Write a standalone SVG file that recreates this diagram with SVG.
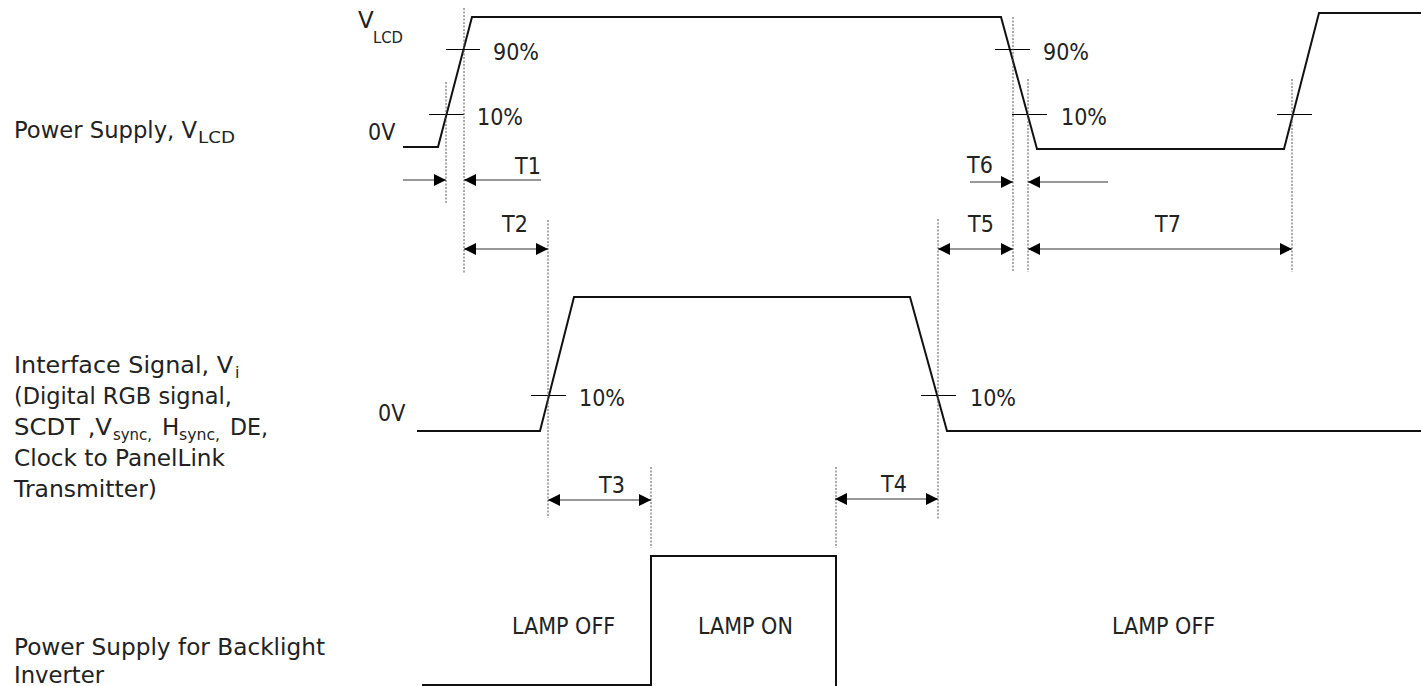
<svg xmlns="http://www.w3.org/2000/svg" width="1421" height="686" viewBox="0 0 1421 686">
<style>
text{font-family:"DejaVu Sans","Liberation Sans",sans-serif;font-stretch:condensed;font-size:23px;fill:#222}
.lab{font-stretch:normal}
.sub{font-size:16px;font-stretch:normal}
.sig{fill:none;stroke:#111;stroke-width:2}
.tick{stroke:#000;stroke-width:1}
.dash{stroke:#555;stroke-width:1;stroke-dasharray:2,1.5}
.dim{stroke:#333;stroke-width:1.2;fill:none}
</style>
<defs>
<marker id="ah" viewBox="0 0 12 12" refX="12" refY="6" markerWidth="12" markerHeight="12" markerUnits="userSpaceOnUse" orient="auto-start-reverse">
<path d="M0,0 L12,6 L0,12 Z" fill="#000"/>
</marker>
</defs>
<rect width="1421" height="686" fill="#fff"/>

<g id="labels">
<text class="lab" x="14" y="138" textLength="183" lengthAdjust="spacingAndGlyphs">Power Supply, V</text>
<text class="sub" x="198" y="143" textLength="37" lengthAdjust="spacingAndGlyphs">LCD</text>
<text class="lab" x="14" y="373" textLength="219" lengthAdjust="spacingAndGlyphs">Interface Signal, V</text>
<text class="sub" x="235" y="378">i</text>
<text class="lab" x="14" y="404" textLength="218" lengthAdjust="spacingAndGlyphs">(Digital RGB signal,</text>
<text class="lab" x="14" y="435" textLength="98" lengthAdjust="spacingAndGlyphs">SCDT ,V</text>
<text class="sub" x="113" y="440" textLength="39" lengthAdjust="spacingAndGlyphs">sync,</text>
<text class="lab" x="162" y="435">H</text>
<text class="sub" x="179" y="440" textLength="41" lengthAdjust="spacingAndGlyphs">sync,</text>
<text class="lab" x="230" y="435" textLength="38" lengthAdjust="spacingAndGlyphs">DE,</text>
<text class="lab" x="14" y="466" textLength="211" lengthAdjust="spacingAndGlyphs">Clock to PanelLink</text>
<text class="lab" x="14" y="497" textLength="143" lengthAdjust="spacingAndGlyphs">Transmitter)</text>
<text class="lab" x="14" y="655" textLength="311" lengthAdjust="spacingAndGlyphs">Power Supply for Backlight</text>
<text class="lab" x="14" y="683" textLength="90" lengthAdjust="spacingAndGlyphs">Inverter</text>
</g>

<g id="vlcd">
<text class="lab" x="358" y="28">V</text>
<text class="sub" x="373" y="43" textLength="30" lengthAdjust="spacingAndGlyphs">LCD</text>
<text x="368" y="140">0V</text>
<polyline class="sig" points="403,147 438,147 472,17 1001,17 1037,149 1284,149 1319,13 1421,13"/>
<line class="tick" x1="446" y1="49.5" x2="480" y2="49.5"/>
<line class="tick" x1="429" y1="114.5" x2="464" y2="114.5"/>
<text x="493" y="60">90%</text>
<text x="477" y="125">10%</text>
<line class="tick" x1="995" y1="49.5" x2="1030" y2="49.5"/>
<line class="tick" x1="1012" y1="114.5" x2="1047" y2="114.5"/>
<text x="1043" y="60">90%</text>
<text x="1061" y="125">10%</text>
<line class="tick" x1="1277" y1="114.5" x2="1312" y2="114.5"/>
</g>

<g id="interface">
<text x="378" y="421">0V</text>
<polyline class="sig" points="417,431 540,431 574,297 910,297 947,431 1421,431"/>
<line class="tick" x1="531" y1="395.5" x2="566" y2="395.5"/>
<text x="579" y="406">10%</text>
<line class="tick" x1="921" y1="395.5" x2="956" y2="395.5"/>
<text x="970" y="406">10%</text>
</g>

<g id="backlight">
<polyline class="sig" points="422,685 651,685 651,556 836,556 836,686"/>
<text x="512" y="634">LAMP OFF</text>
<text x="698" y="634">LAMP ON</text>
<text x="1112" y="634">LAMP OFF</text>
</g>

<g id="guides">
<line class="dash" x1="446" y1="82" x2="446" y2="203"/>
<line class="dash" x1="464" y1="8" x2="464" y2="273"/>
<line class="dash" x1="548" y1="220" x2="548" y2="518"/>
<line class="dash" x1="651" y1="467" x2="651" y2="548"/>
<line class="dash" x1="836" y1="467" x2="836" y2="548"/>
<line class="dash" x1="938" y1="219" x2="938" y2="520"/>
<line class="dash" x1="1013" y1="17" x2="1013" y2="272"/>
<line class="dash" x1="1028" y1="79" x2="1028" y2="272"/>
<line class="dash" x1="1292" y1="79" x2="1292" y2="272"/>
</g>

<g id="connectors">
<line class="dim" x1="403" y1="180" x2="446" y2="180" marker-end="url(#ah)"/>
<line class="dim" x1="541" y1="180" x2="464" y2="180" marker-end="url(#ah)"/>
<text x="515" y="174">T1</text>
<line class="dim" x1="464" y1="249" x2="548" y2="249" marker-start="url(#ah)" marker-end="url(#ah)"/>
<text x="502" y="232">T2</text>
<line class="dim" x1="548" y1="500" x2="651" y2="500" marker-start="url(#ah)" marker-end="url(#ah)"/>
<text x="599" y="493">T3</text>
<line class="dim" x1="835" y1="499" x2="938" y2="499" marker-start="url(#ah)" marker-end="url(#ah)"/>
<text x="881" y="492">T4</text>
<line class="dim" x1="938" y1="249" x2="1013" y2="249" marker-start="url(#ah)" marker-end="url(#ah)"/>
<text x="968" y="232">T5</text>
<line class="dim" x1="970" y1="182" x2="1013" y2="182" marker-end="url(#ah)"/>
<line class="dim" x1="1108" y1="182" x2="1028" y2="182" marker-end="url(#ah)"/>
<text x="967" y="173">T6</text>
<line class="dim" x1="1028" y1="249" x2="1292" y2="249" marker-start="url(#ah)" marker-end="url(#ah)"/>
<text x="1155" y="232">T7</text>
</g>
</svg>
